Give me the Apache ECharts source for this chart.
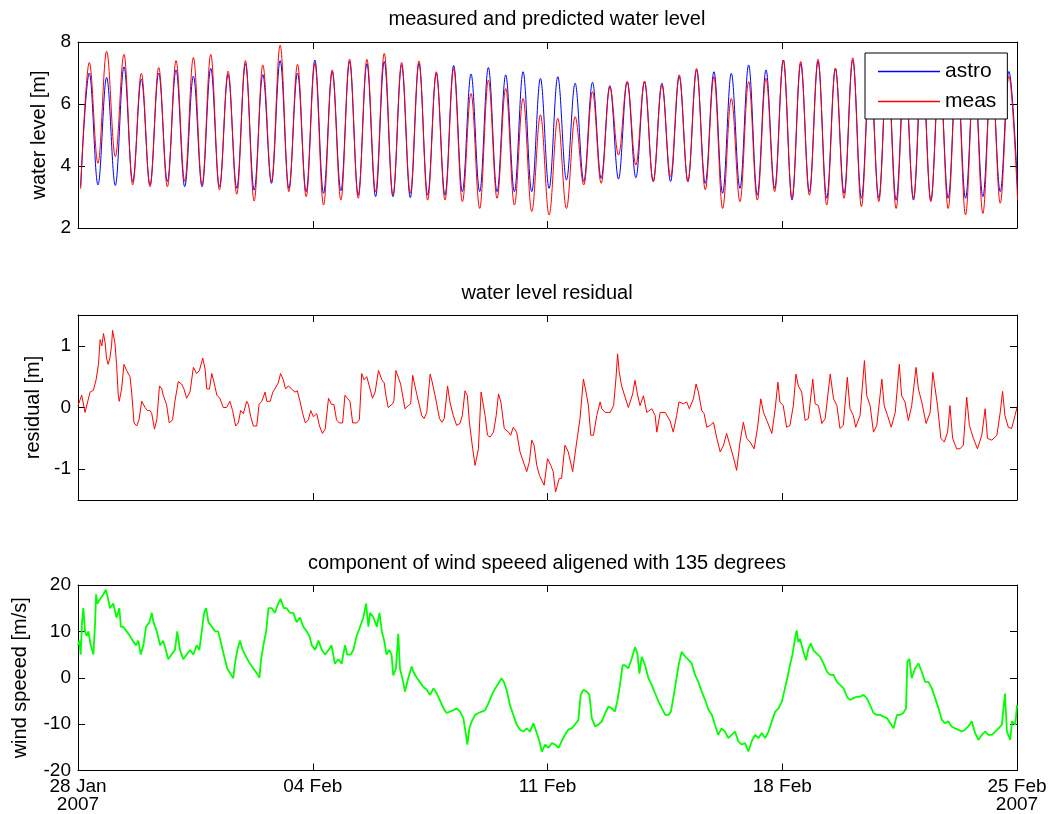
<!DOCTYPE html>
<html>
<head>
<meta charset="utf-8">
<script src="https://cdn.jsdelivr.net/npm/echarts@6/dist/echarts.min.js"></script>
<style>html,body{margin:0;padding:0;background:#fff}#c{width:1050px;height:814px}</style>
</head>
<body>
<div id="c"></div>
<script>
// ---- x axis (days after 28 Jan 2007 00:00) ----
const xTickLabels = ['28 Jan\n2007', '04 Feb', '11 Feb', '18 Feb', '25 Feb\n2007'];
const titles = ['measured and predicted water level', 'water level residual', 'component of wind speeed aligened with 135 degrees'];
const yNames = ['water level [m]', 'residual [m]', 'wind speeed [m/s]'];

// ---- panel 1: tidal extremes (low water, then high water, alternating) ----
const tideFirstLowDay = 0.078;      // time of first low water
const tideHalfPeriodDays = 0.2587;  // spacing between successive high/low waters
const astroLow = [3.33,3.39,3.37,3.5,3.39,3.5,3.33,3.33,3.33,3.28,3.22,3.44,3.28,3.17,3.12,3.2,3.06,3.01,3.01,2.98,3.06,3.06,3.17,3.17,3.17,3.17,3.17,3.28,3.55,3.5,3.6,3.58,3.62,3.5,3.5,3.5,3.44,3.12,3.28,3.06,3.28,2.9,3.17,2.96,3.12,2.96,2.96,2.9,2.9,2.9,2.96,2.96,3.01,3.17,3.3];
const astroHigh = [7.0,6.86,7.2,6.8,7.0,7.1,6.9,7.15,6.95,7.3,6.95,7.4,7.0,7.42,7.05,7.37,7.3,7.37,7.26,7.31,6.99,7.24,6.97,7.18,6.94,7.04,6.83,6.88,6.67,6.70,6.59,6.72,6.72,6.67,6.88,7.1,7.04,6.99,7.26,7.1,7.42,7.3,7.37,7.15,7.42,7.2,7.35,7.15,7.3,7.1,7.2,7.0,7.1,7.05];
const measLow = [3.26,4.09,4.3,3.39,3.33,3.33,3.5,3.39,3.23,3.09,2.87,3.5,3.17,3.01,2.74,2.9,2.96,3.17,3.06,3.12,2.9,2.9,2.85,2.63,2.96,2.74,2.53,2.42,2.63,3.39,3.44,4.35,4.03,3.5,3.66,3.5,3.23,2.63,2.85,2.9,3.17,2.96,3.06,2.74,2.96,2.69,2.85,2.63,2.96,2.85,2.63,2.42,2.47,2.8,2.9];
const measHigh = [7.34,7.7,7.6,6.99,7.18,7.4,7.5,7.6,7.06,7.4,7.26,7.9,7.28,7.31,7.1,7.45,7.44,7.63,7.34,7.39,7.04,7.15,6.34,6.77,6.5,6.18,5.65,5.54,5.59,6.4,6.56,6.72,6.74,6.61,6.94,7.15,6.88,6.18,6.72,6.83,7.42,7.37,7.45,7.15,7.49,7.3,7.4,7.2,7.4,7.3,7.4,7.2,7.3,6.9];

// ---- panel 2: residual [day, m] ----
const residual = [[0.00,0.03],[0.11,0.2],[0.21,-0.08],[0.36,0.25],[0.46,0.28],[0.54,0.45],[0.61,0.7],[0.66,1.1],[0.71,1.0],[0.76,1.2],[0.81,1.05],[0.85,0.8],[0.90,0.7],[0.95,0.8],[1.00,1.0],[1.03,1.25],[1.10,1.05],[1.15,0.7],[1.20,0.2],[1.23,0.1],[1.30,0.3],[1.37,0.7],[1.45,0.6],[1.55,0.5],[1.60,0.25],[1.67,-0.25],[1.75,-0.3],[1.82,-0.2],[1.90,0.1],[2.00,0.0],[2.07,-0.05],[2.15,-0.05],[2.20,-0.1],[2.28,-0.35],[2.35,-0.2],[2.43,0.35],[2.50,0.3],[2.54,0.2],[2.64,0.05],[2.72,-0.25],[2.82,-0.2],[2.89,0.1],[2.99,0.42],[3.09,0.38],[3.16,0.3],[3.24,0.15],[3.34,0.25],[3.44,0.65],[3.54,0.55],[3.62,0.6],[3.72,0.8],[3.79,0.62],[3.84,0.3],[3.92,0.3],[3.99,0.55],[4.06,0.4],[4.14,0.2],[4.23,0.15],[4.33,0.0],[4.43,0.0],[4.53,0.1],[4.61,-0.05],[4.70,-0.3],[4.78,-0.25],[4.85,-0.05],[4.93,-0.1],[5.03,0.1],[5.08,0.05],[5.15,-0.15],[5.23,-0.3],[5.33,-0.3],[5.40,0.05],[5.48,0.1],[5.58,0.25],[5.63,0.1],[5.73,0.1],[5.81,0.25],[5.87,0.3],[5.97,0.4],[6.04,0.55],[6.12,0.45],[6.19,0.3],[6.27,0.35],[6.37,0.3],[6.47,0.25],[6.54,0.27],[6.62,0.1],[6.70,-0.1],[6.78,-0.25],[6.87,-0.2],[6.94,-0.05],[7.02,-0.15],[7.12,-0.1],[7.20,-0.3],[7.29,-0.42],[7.37,-0.35],[7.47,0.15],[7.56,0.05],[7.63,0.05],[7.71,-0.2],[7.79,-0.25],[7.89,-0.25],[7.96,0.2],[8.03,0.15],[8.11,0.1],[8.19,-0.25],[8.31,-0.25],[8.39,-0.2],[8.46,0.55],[8.53,0.45],[8.61,0.5],[8.71,0.3],[8.78,0.15],[8.86,0.25],[8.96,0.6],[9.06,0.45],[9.13,0.4],[9.18,0.2],[9.25,0.0],[9.30,-0.02],[9.38,0.06],[9.42,0.11],[9.48,0.60],[9.52,0.57],[9.62,0.38],[9.67,0.41],[9.75,-0.02],[9.85,0.03],[9.92,0.06],[9.98,0.52],[10.10,0.22],[10.25,-0.13],[10.32,-0.18],[10.40,-0.08],[10.50,0.54],[10.55,0.44],[10.65,0.19],[10.78,-0.18],[10.85,-0.24],[10.92,-0.18],[11.02,0.35],[11.09,0.09],[11.19,-0.13],[11.29,-0.29],[11.39,-0.26],[11.46,-0.13],[11.54,0.27],[11.61,0.19],[11.67,-0.24],[11.77,-0.67],[11.84,-0.94],[11.87,-0.94],[11.94,-0.67],[12.02,0.25],[12.05,0.25],[12.14,-0.13],[12.21,-0.45],[12.29,-0.48],[12.39,-0.40],[12.47,-0.13],[12.54,0.22],[12.61,0.09],[12.71,-0.34],[12.84,-0.40],[12.90,-0.45],[12.98,-0.32],[13.08,-0.40],[13.18,-0.72],[13.38,-1.04],[13.46,-0.88],[13.53,-0.53],[13.60,-0.61],[13.68,-0.94],[13.76,-1.10],[13.83,-1.18],[13.90,-1.26],[14.00,-0.83],[14.10,-0.94],[14.17,-1.04],[14.24,-1.37],[14.35,-1.15],[14.42,-1.15],[14.52,-0.61],[14.62,-0.72],[14.75,-1.04],[14.77,-1.04],[14.87,-0.56],[14.97,-0.18],[15.07,0.46],[15.15,0.25],[15.22,0.03],[15.29,-0.45],[15.37,-0.45],[15.47,-0.13],[15.57,0.09],[15.62,-0.02],[15.72,-0.08],[15.87,-0.08],[15.97,0.03],[16.04,0.46],[16.09,0.87],[16.14,0.57],[16.21,0.35],[16.26,0.35],[16.41,0.00],[16.54,0.22],[16.61,0.44],[16.68,0.22],[16.76,0.03],[16.86,0.19],[16.96,-0.08],[17.11,-0.02],[17.21,-0.13],[17.26,-0.40],[17.36,-0.08],[17.51,-0.08],[17.65,-0.21],[17.75,-0.40],[17.85,-0.13],[17.92,0.09],[18.05,0.06],[18.15,0.09],[18.23,-0.02],[18.35,0.14],[18.43,0.38],[18.50,0.25],[18.60,-0.05],[18.67,-0.10],[18.75,-0.32],[18.85,-0.29],[18.95,-0.24],[19.05,-0.50],[19.15,-0.72],[19.25,-0.61],[19.34,-0.42],[19.44,-0.61],[19.54,-0.80],[19.64,-1.02],[19.74,-0.56],[19.84,-0.24],[19.94,-0.50],[20.04,-0.56],[20.16,-0.67],[20.26,-0.34],[20.36,0.14],[20.44,-0.08],[20.54,-0.21],[20.69,-0.42],[20.79,-0.02],[20.87,0.41],[20.93,0.09],[21.03,0.03],[21.13,-0.32],[21.23,-0.29],[21.33,0.03],[21.41,0.54],[21.48,0.35],[21.58,0.25],[21.68,-0.21],[21.78,-0.18],[21.91,0.46],[21.98,0.06],[22.08,0.03],[22.18,-0.26],[22.28,-0.18],[22.43,0.54],[22.53,0.14],[22.63,0.03],[22.72,-0.34],[22.82,-0.29],[22.94,0.49],[23.02,-0.02],[23.12,-0.13],[23.19,-0.32],[23.32,-0.13],[23.45,0.76],[23.52,0.19],[23.62,0.03],[23.72,-0.40],[23.82,-0.29],[23.97,0.46],[24.04,0.03],[24.14,-0.13],[24.25,-0.32],[24.37,-0.08],[24.49,0.70],[24.56,0.19],[24.66,0.09],[24.76,-0.21],[24.86,0.03],[24.99,0.65],[25.06,0.30],[25.16,0.09],[25.29,-0.26],[25.41,-0.08],[25.49,0.57],[25.56,0.30],[25.63,0.03],[25.73,-0.50],[25.83,-0.56],[25.93,-0.40],[26.00,0.03],[26.08,-0.50],[26.20,-0.67],[26.30,-0.67],[26.40,-0.61],[26.50,0.17],[26.58,-0.29],[26.70,-0.50],[26.82,-0.67],[26.95,-0.45],[27.05,-0.02],[27.12,-0.50],[27.25,-0.53],[27.40,-0.45],[27.50,-0.08],[27.57,0.26],[27.64,-0.13],[27.74,-0.32],[27.84,-0.34],[27.94,-0.13],[28.00,0.00]];

// ---- panel 3: wind component [day, m/s] ----
const wind = [[0.00,7],[0.04,8],[0.08,5],[0.12,12],[0.16,15],[0.21,10],[0.26,9],[0.31,10],[0.38,7],[0.46,5],[0.51,12],[0.54,18],[0.58,16],[0.66,17],[0.76,18],[0.83,19],[0.90,17],[0.95,15],[1.05,16],[1.15,13],[1.23,15],[1.28,11],[1.35,11],[1.45,10],[1.55,9],[1.63,8],[1.73,7],[1.80,8],[1.87,5],[1.95,7],[2.03,11],[2.13,12],[2.20,14],[2.25,12],[2.35,10],[2.45,7],[2.54,8],[2.62,6],[2.69,4],[2.79,5],[2.89,6],[2.96,10],[3.04,6],[3.14,4],[3.24,5],[3.34,6],[3.44,5],[3.54,7],[3.62,6],[3.69,10],[3.76,14],[3.82,15],[3.89,12],[3.99,11],[4.09,10],[4.18,10],[4.28,7],[4.38,4],[4.45,2],[4.53,1],[4.63,-0.1],[4.68,3],[4.75,6],[4.83,8],[4.91,6],[4.98,5],[5.05,4],[5.13,3],[5.23,2],[5.33,1],[5.41,0],[5.46,4],[5.53,7],[5.61,10],[5.68,15],[5.78,15],[5.87,14],[5.97,16],[6.04,17],[6.14,15],[6.22,15],[6.32,14],[6.42,14],[6.52,12],[6.62,13],[6.72,11],[6.82,10],[6.90,9],[6.97,7],[7.07,6],[7.17,8],[7.27,6],[7.37,5],[7.47,6],[7.56,7],[7.66,3],[7.76,4],[7.86,3],[7.96,7],[8.03,5],[8.13,5],[8.21,6],[8.31,9],[8.41,11],[8.51,13],[8.59,16],[8.66,11],[8.71,14],[8.81,13],[8.91,11],[8.99,14],[9.06,10],[9.13,8],[9.20,5],[9.28,6],[9.35,5],[9.40,0.5],[9.48,2],[9.55,9.5],[9.60,2],[9.70,-1],[9.75,-3],[9.85,0],[9.95,2.4],[10.00,1.3],[10.10,0],[10.20,-1],[10.30,-2],[10.40,-2.6],[10.50,-3.7],[10.60,-2.3],[10.70,-3.4],[10.80,-5],[10.90,-6.6],[10.99,-7.6],[11.09,-7.3],[11.19,-7],[11.29,-6.6],[11.39,-7.3],[11.49,-8.7],[11.57,-12.3],[11.61,-14.4],[11.67,-10.9],[11.74,-9.4],[11.84,-8],[11.94,-7.6],[12.04,-7.3],[12.14,-7],[12.24,-5.5],[12.34,-3.7],[12.44,-2.3],[12.54,-1.2],[12.63,-0.1],[12.70,-0.9],[12.78,-2.6],[12.88,-5.9],[12.98,-8],[13.08,-10.1],[13.18,-11.2],[13.28,-11.6],[13.38,-10.9],[13.48,-11.6],[13.58,-9.8],[13.68,-11.9],[13.76,-13.7],[13.83,-15.9],[13.93,-14.4],[14.03,-15.1],[14.13,-14.1],[14.23,-14.4],[14.33,-15.1],[14.42,-13.7],[14.52,-12.3],[14.62,-11.2],[14.72,-10.9],[14.82,-10.1],[14.92,-9.1],[14.99,-3.7],[15.07,-2.6],[15.17,-3],[15.25,-3.7],[15.32,-8.7],[15.42,-10.5],[15.52,-10.1],[15.62,-9.4],[15.72,-7.6],[15.82,-6.2],[15.92,-6.6],[16.01,-7.3],[16.08,-5.1],[16.16,-1.6],[16.24,2.7],[16.31,2.7],[16.41,2],[16.51,4.1],[16.61,6.6],[16.68,5.2],[16.74,0.9],[16.81,4.5],[16.91,2.7],[17.01,-0.1],[17.11,-1.6],[17.21,-3.4],[17.31,-5.1],[17.41,-6.6],[17.51,-8],[17.61,-8],[17.68,-7.3],[17.75,-4.4],[17.83,-0.9],[17.91,2.7],[18.00,5.6],[18.07,4.9],[18.17,4.1],[18.30,3.1],[18.40,0.6],[18.50,-0.9],[18.60,-3],[18.70,-4.8],[18.80,-6.9],[18.90,-8],[18.99,-10.1],[19.09,-12.3],[19.19,-10.9],[19.29,-11.6],[19.39,-13],[19.49,-12.3],[19.59,-11.6],[19.69,-13.7],[19.79,-14.4],[19.89,-14.1],[19.99,-15.9],[20.09,-13.7],[20.19,-12.3],[20.29,-13],[20.39,-11.9],[20.49,-13],[20.59,-11.6],[20.69,-9.4],[20.79,-7.3],[20.89,-6.6],[20.99,-5.1],[21.08,-2.3],[21.15,-0.1],[21.23,2.7],[21.31,5.2],[21.38,8.4],[21.43,10.2],[21.48,7.7],[21.53,8.4],[21.63,5.6],[21.71,3.8],[21.78,6.3],[21.85,7.4],[21.93,5.9],[22.03,5.2],[22.13,4.5],[22.23,3.1],[22.33,1.3],[22.43,0.6],[22.53,0.6],[22.63,-0.9],[22.73,-1.6],[22.83,-2.3],[22.93,-4.1],[23.02,-4.8],[23.12,-4.4],[23.22,-4.1],[23.32,-4.1],[23.42,-3.7],[23.52,-4.4],[23.62,-5.9],[23.72,-7.6],[23.82,-8],[23.92,-8],[24.02,-8.4],[24.12,-8.7],[24.22,-9.8],[24.32,-10.9],[24.42,-8],[24.51,-8],[24.61,-7.6],[24.69,-6.6],[24.73,3.4],[24.79,4.1],[24.86,-0.1],[24.96,2],[25.06,3.1],[25.16,1.3],[25.26,-0.9],[25.36,-0.9],[25.46,-2.3],[25.56,-4.4],[25.66,-6.6],[25.76,-9.1],[25.85,-9.8],[25.95,-9.4],[26.05,-10.5],[26.15,-10.9],[26.25,-11.2],[26.35,-11.6],[26.45,-11.2],[26.55,-10.5],[26.65,-9.4],[26.75,-11.9],[26.85,-13.4],[26.95,-12.3],[27.05,-11.6],[27.15,-12.3],[27.25,-12.3],[27.35,-11.6],[27.45,-10.9],[27.55,-10.1],[27.64,-3.4],[27.70,-11.6],[27.80,-13.4],[27.85,-9.4],[27.95,-10.1],[28.00,-5.9]];

function tideSeries(lows, highs) {
  const out = [];
  for (let i = 0; i < lows.length; i++) {
    out.push([tideFirstLowDay + (2 * i) * tideHalfPeriodDays, lows[i]]);
    if (i < highs.length) out.push([tideFirstLowDay + (2 * i + 1) * tideHalfPeriodDays, highs[i]]);
  }
  return out;
}

const FONT = "'Liberation Sans', Arial, Helvetica, sans-serif";
const FS_TICK = 19;
const FS_TEXT = 20;
const BLUE = '#0000ff', RED = '#ff0000', GREEN = '#00ff00';
const grids = [
  { left: 78, right: 33, top: 42, height: 186 },
  { left: 78, right: 33, top: 315, height: 185 },
  { left: 78, right: 33, top: 585, height: 187 }
];
const titleTops = [9, 283, 553];
const yRanges = [
  { min: 2, max: 8, interval: 2 },
  { min: -1.5, max: 1.5, custom: [-1, 0, 1] },
  { min: -20, max: 20, interval: 10 }
];
const nameGaps = [28, 30, 48];
const black = { color: '#000', width: 1 };

const xAxes = [], yAxes = [];
for (let g = 0; g < 3; g++) {
  const base = {
    gridIndex: g, type: 'value', min: 0, max: 28, interval: 7,
    axisLine: { show: true, onZero: false, lineStyle: black },
    axisTick: { show: true, inside: true, length: 7, lineStyle: black },
    splitLine: { show: false }
  };
  xAxes.push(Object.assign({}, base, {
    position: 'bottom',
    axisLabel: {
      show: g === 2, color: '#000', fontFamily: FONT, fontSize: FS_TICK, lineHeight: 18, margin: 7,
      formatter: v => xTickLabels[Math.round(v / 7)]
    }
  }));
  xAxes.push(Object.assign({}, base, { position: 'top', axisLabel: { show: false } }));
  const r = yRanges[g];
  const yb = {
    gridIndex: g, type: 'value', min: r.min, max: r.max,
    axisLine: { show: true, onZero: false, lineStyle: black },
    splitLine: { show: false }
  };
  if (r.interval) yb.interval = r.interval;
  const tick = { show: true, inside: true, length: 7, lineStyle: black };
  if (r.custom) tick.customValues = r.custom;
  const lab = { color: '#000', fontFamily: FONT, fontSize: FS_TICK, margin: 7 };
  if (r.custom) lab.customValues = r.custom;
  yAxes.push(Object.assign({}, yb, {
    position: 'left', axisTick: tick, axisLabel: lab,
    name: yNames[g], nameLocation: 'middle', nameGap: nameGaps[g],
    nameTextStyle: { color: '#000', fontFamily: FONT, fontSize: FS_TEXT }
  }));
  yAxes.push(Object.assign({}, yb, {
    position: 'right', axisTick: Object.assign({}, tick), axisLabel: { show: false }
  }));
}

const option = {
  animation: false,
  backgroundColor: '#fff',
  textStyle: { fontFamily: FONT },
  title: titles.map((t, i) => ({
    text: t, left: 547, top: titleTops[i], textAlign: 'center', padding: 0,
    textStyle: { color: '#000', fontWeight: 'normal', fontFamily: FONT, fontSize: FS_TEXT }
  })),
  grid: grids,
  xAxis: xAxes,
  yAxis: yAxes,
  legend: {
    data: [
      { name: 'astro', icon: 'rect', itemStyle: { color: BLUE, borderWidth: 0, borderColor: BLUE } },
      { name: 'meas', icon: 'rect', itemStyle: { color: RED, borderWidth: 0, borderColor: RED } }
    ],
    orient: 'vertical', left: 865, top: 53,
    backgroundColor: '#fff', borderColor: '#000', borderWidth: 1, borderRadius: 0,
    padding: [8, 11, 7, 13], itemGap: 9, itemWidth: 62, itemHeight: 1.5,
    textStyle: { color: '#000', fontFamily: FONT, fontSize: 21 }
  },
  series: [
    { name: 'astro', type: 'line', xAxisIndex: 0, yAxisIndex: 0, data: tideSeries(astroLow, astroHigh),
      symbol: 'none', smooth: 0.37, smoothMonotone: 'x', lineStyle: { color: BLUE, width: 1 }, itemStyle: { color: BLUE } },
    { name: 'meas', type: 'line', xAxisIndex: 0, yAxisIndex: 0, data: tideSeries(measLow, measHigh),
      symbol: 'none', smooth: 0.37, smoothMonotone: 'x', lineStyle: { color: RED, width: 1 }, itemStyle: { color: RED } },
    { name: 'residual', type: 'line', xAxisIndex: 2, yAxisIndex: 2, data: residual,
      symbol: 'none', lineStyle: { color: RED, width: 1 } },
    { name: 'wind', type: 'line', xAxisIndex: 4, yAxisIndex: 4, data: wind,
      symbol: 'none', lineStyle: { color: GREEN, width: 1.8 } }
  ]
};

const chart = echarts.init(document.getElementById('c'), null, { renderer: 'canvas' });
chart.setOption(option);
</script>
</body>
</html>
